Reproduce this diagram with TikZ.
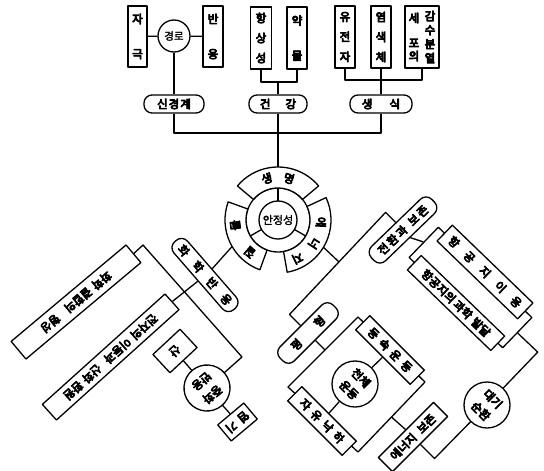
\documentclass[tikz,border=0pt]{standalone}
\usepackage{fontspec}
\newfontfamily\kr{Noto Sans CJK KR}
\newfontfamily\krl{Noto Sans CJK KR}
\usetikzlibrary{calc}
\begin{document}
\begin{tikzpicture}[x=1pt,y=-1pt,line width=1.3pt,line join=round,
  every node/.style={inner sep=0pt,align=center,font=\kr\fontsize{11.5}{12}\selectfont,
     execute at begin node={\special{pdf:literal direct 2 Tr 0.8 w}},
     execute at end node={\special{pdf:literal direct 0 Tr}}},
  vbox/.style={draw,fill=white,minimum width=20pt,minimum height=62pt},
  rbox/.style={draw,fill=white,rounded corners=8pt,minimum height=18pt},
  sbox/.style={draw,fill=white,minimum height=20pt},
  circ/.style={draw,fill=white,circle},
  light/.style={font=\krl\fontsize{10.5}{12}\selectfont,
     execute at begin node={\special{pdf:literal direct 2 Tr 0.2 w}}}]
\useasboundingbox (0,0) rectangle (544,471);
% ---------- top: nervous system
\node[vbox,minimum width=19pt,minimum height=61pt] (jageuk) at (137.5,36.5) {자\\[23pt]극};
\node[circ,minimum size=32pt,light] (gyeongro) at (174,36) {경로};
\node[vbox,minimum height=61pt] (baneung) at (213,36.5) {반\\[23pt]응};
\draw (jageuk) -- (gyeongro) -- (baneung);
\node[rbox,minimum width=60pt] (singyeong) at (174,104) {신\hspace{1pt}경\hspace{1pt}계};
\draw (gyeongro) -- (singyeong);
% ---------- top: health
\node[vbox,minimum width=21pt] (hangsang) at (261,38) {항\\[8pt]상\\[8pt]성};
\node[vbox] (yakmul) at (297,38) {약\\[23pt]물};
\coordinate (j2) at (278,82);
\draw (hangsang.south) |- (j2) -| (yakmul.south);
\node[rbox,minimum width=58pt] (geongang) at (278,104) {건\hspace{15pt}강};
\draw (j2) -- (geongang.north);
% ---------- top: reproduction
\node[vbox] (yujeonja) at (345,37) {유\\[8pt]전\\[8pt]자};
\node[vbox] (yeomsaek) at (381,37) {염\\[8pt]색\\[8pt]체};
\node[vbox,minimum width=34pt] (saepo) at (422,37) {};
\node (saepoL) at (414,37) {세\\[13pt]포\\[1pt]의};
\node (saepoR) at (430,37) {감\\[2pt]수\\[2pt]분\\[2pt]열};
\node[rbox,minimum width=62pt] (saengsik) at (381,104) {생\hspace{17pt}식};
\coordinate (j3) at (381,80);
\draw (yujeonja.south) |- (j3) -| (saepo.south);
\draw (yeomsaek.south) -- (j3) -- (saengsik.north);
% ---------- bus and trunk
\coordinate (bus) at (278,133);
\coordinate (rc) at (278,220);
\draw (singyeong.south) |- (bus) -| (saengsik.south);
\draw (geongang.south) -- ($(rc)+(0,-53)$);
% ---------- ring
\draw[fill=white] (rc) circle[radius=32];
\foreach \a/\b in {40/140,-80/25,160/250}
  \draw[fill=white] ($(rc)+(-\a:53)$) arc[start angle=-\a,end angle=-\b,radius=53]
     -- ($(rc)+(-\b:32)$) arc[start angle=-\b,end angle=-\a,radius=32] -- cycle;
\foreach \t in {90,210,330} \draw ($(rc)+(-\t:19)$) -- ($(rc)+(-\t:32)$);
\node[circ,minimum size=38pt,light,font=\krl\fontsize{11}{12}\selectfont] (anjeong) at (rc) {안정성};
\foreach \t/\c in {105/생,75/명,-3/에,-33/너,-63/지,187/물,229/질}
  \node[rotate=\t-90] (seg\t) at ($(rc)+(-\t:43)$) {\c};
% ---------- lower left cluster
\coordinate (ringL) at ($(rc)+(-210:53)$);
\node[rbox,rotate=-49,minimum width=90pt] (hwahak) at (205,275) {화\hspace{11pt}학\hspace{11pt}반\hspace{11pt}응};
\draw (ringL) -- (hwahak.north);
\node[sbox,rotate=-140,minimum width=150pt,minimum height=23pt] (upbox) at (76,302) {화학\hspace{4pt}결합의\hspace{10pt}형성};
\node[sbox,rotate=-138,minimum width=165pt,minimum height=21pt] (lowbox) at (110.7,357) {전자의\hspace{4pt}이동과\hspace{8pt}산화\hspace{4pt}환원};
\draw (hwahak.south) -- (lowbox.west);
\node[circ,minimum size=46pt,rotate=-140] (junghwa) at (207,388) {중화\\[5pt]반응};
\coordinate (b1a) at (143,245);
\coordinate (b1b) at (242,357);
\draw (upbox.west) -- (b1a) -- (b1b) -- (junghwa);
\node[sbox,rotate=-137,minimum width=37pt,minimum height=25pt] (san) at (175,351) {산};
\draw (san) -- (junghwa);
\node[sbox,rotate=-140,minimum width=34pt,minimum height=21pt] (yeomgi) at (237.5,422) {염\hspace{5pt}기};
\draw (junghwa) -- (yeomgi);
% ---------- lower right cluster
\node[rbox,rotate=44,minimum width=84pt,minimum height=20pt] (jeonhwan) at (403,230) {전\hspace{2pt}환\hspace{2pt}과\hspace{6pt}보\hspace{2pt}존};
\node[rbox,rotate=45,minimum width=75pt,minimum height=20pt] (pyeong) at (308,333) {평\hspace{22pt}형};
\coordinate (l1b) at ($(jeonhwan.north)+(-10,-10)$);
\coordinate (l1a) at ($(pyeong.north)+(-11,-11)$);
\draw (jeonhwan.north) -- (l1b) -- (l1a) -- (pyeong.north);
\coordinate (ringR) at ($(rc)+(31:53)$);
\draw (ringR) -- ($(l1a)!(ringR)!(l1b)$);
% diamond
\coordinate (dT) at (358,317);
\coordinate (dR) at (425,382);
\coordinate (dB) at (358,452);
\coordinate (dL) at (288,387);
\draw (dT) -- (dR) -- (dB) -- (dL) -- cycle;
\draw (pyeong.south) -- ($(dL)!(pyeong.south)!(dT)$);
\node[circ,minimum size=46pt,rotate=-45] (cheonche) at (355,384) {천체\\[5pt]운동};
\node[sbox,rotate=-45,minimum width=77pt] (dongsok) at (390,350) {등\hspace{5pt}속\hspace{5pt}운\hspace{5pt}동};
\node[sbox,rotate=-45,minimum width=77pt] (jayu) at (322,421) {자\hspace{5pt}유\hspace{5pt}낙\hspace{5pt}하};
\draw (cheonche) -- (dongsok);
\draw (cheonche) -- (jayu);
\node[sbox,rotate=45,minimum width=78pt] (enbo) at (413,437) {에너지\hspace{6pt}보존};
\draw ($(dR)!0.5!(dB)$) -- (enbo.north);
\node[circ,minimum size=46pt,rotate=-45] (daegi) at (487,405) {대기\\[5pt]순환};
\coordinate (c1) at ($(enbo.south)+(14,14)$);
\draw (enbo.south) -- (c1) -- (daegi);
% big boxes with frame
\node[draw,rotate=-44,minimum width=130pt,minimum height=42pt] (frame) at (470.5,287.5) {};
\node[sbox,rotate=-44,minimum width=112pt,minimum height=22pt] (bigA) at (485,272) {항\hspace{11pt}공\hspace{11pt}지\hspace{11pt}이\hspace{11pt}용};
\node[sbox,rotate=-44,minimum width=116pt,minimum height=20pt] (bigB) at (456,303) {항공지의\hspace{2pt}과학\hspace{4pt}발달};
\draw (jeonhwan.south) -- (frame.west);
\coordinate (c2) at ($(frame.east)+(20,19)$);
\draw (frame.east) -- (c2) -- (daegi);
\end{tikzpicture}
\end{document}
